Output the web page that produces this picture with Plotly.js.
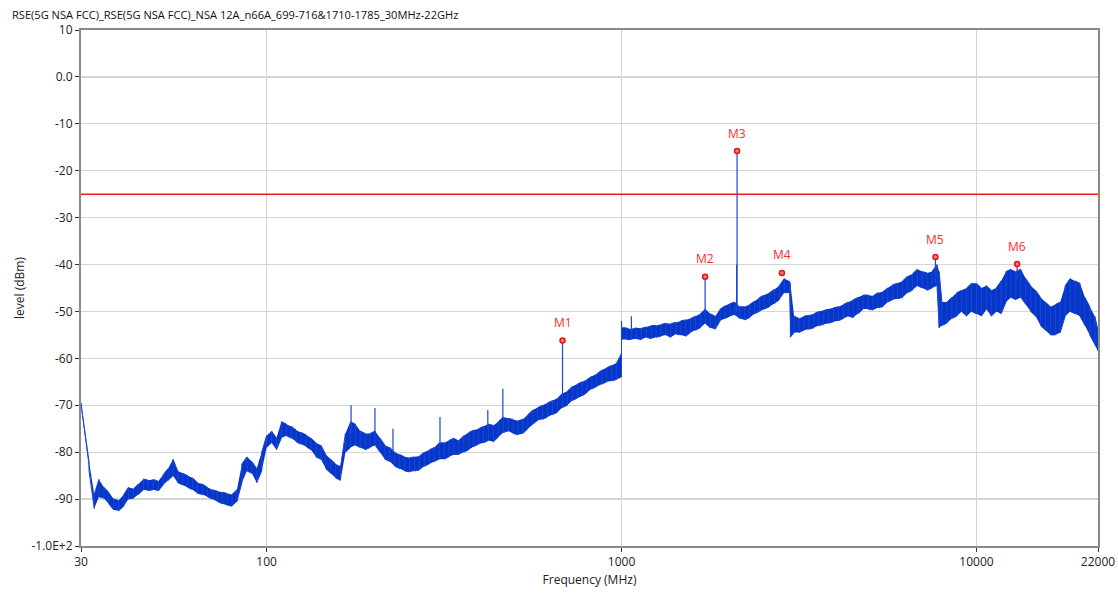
<!DOCTYPE html>
<html>
<head>
<meta charset="utf-8">
<script src="https://cdn.plot.ly/plotly-3.0.1.min.js"></script>
<style>html,body{margin:0;padding:0;background:#fff;}#chart{width:1118px;height:593px;}</style>
</head>
<body>
<div id="chart"></div>
<script>
// Trace envelope: frequency (MHz), lower and upper edge of the noisy trace (dBm)
const freq = [30, 31.6, 32.7, 33.7, 34.8, 35.9, 37.1, 38.3, 39.6, 40.8, 42.2, 43.5, 45.0, 46.4, 47.9, 49.5, 51.1, 52.8, 54.5, 56.2, 58.1, 59.9, 61.9, 63.9, 66.0, 68.1, 70.3, 72.6, 75.0, 77.4, 79.9, 82.5, 85.2, 88.0, 90.9, 93.8, 96.9,
  100, 103.3, 106.6, 110.1, 113.7, 117.4, 121.2, 125.1, 129.2, 133.4, 137.7, 142.2, 146.8, 151.6, 156.5, 161.6, 166.8, 172.2, 177.8, 183.6, 189.6, 195.7, 202.1, 208.7, 215.4, 222.4, 229.7, 237.1, 244.8, 252.8, 261.0, 269.5, 278.3, 287.3, 296.6, 306.3, 316.2, 326.5, 337.1, 348.1, 359.4, 371.1, 383.1, 395.6, 408.4, 421.7, 435.4, 449.6, 464.2, 479.3, 494.8, 510.9, 527.5, 544.7, 562.3, 580.6, 599.5, 619.0, 639.1, 659.8, 681.3, 703.4, 726.3, 749.9, 774.3, 799.4, 825.4, 852.2, 879.9, 908.5, 938.0, 968.5, 999,
  1000, 1032, 1066, 1101, 1137, 1174, 1212, 1251, 1292, 1334, 1377, 1422, 1468, 1516, 1565, 1616, 1668, 1722, 1778, 1836, 1896, 1957, 2021, 2087, 2154, 2224, 2297, 2371, 2448, 2528, 2610, 2695, 2783, 2873, 2966, 2990, 3063, 3162, 3265, 3371, 3481, 3594, 3711, 3831, 3956, 4084, 4217, 4354, 4496, 4642, 4793, 4948, 5109, 5275, 5447, 5623, 5806, 5995, 6190, 6391, 6598, 6813, 7034, 7263, 7499, 7743, 7850, 7994, 8254, 8522, 8799, 9085, 9380, 9685,
  10000, 10325, 10661, 11007, 11365, 11735, 12115, 12509, 12915, 13335, 13768, 14216, 14678, 15155, 15647, 16156, 16681, 17223, 17783, 18361, 18957, 19573, 20210, 20867, 21544, 22000];

const levelLow = [-70.5, -84, -92, -89.5, -89.8, -91, -92.3, -92.5, -91.5, -90, -89.8, -89, -88, -88.2, -88, -88.3, -87, -86, -85, -86.5, -87, -87.5, -88, -88.8, -89, -89.5, -90, -90.5, -91, -91.3, -91.5, -90.5, -86.5, -84, -84.5, -86.5, -84,
  -79, -78, -79.5, -77, -76.5, -77, -77.8, -78.3, -78.8, -79.5, -81, -81.5, -83.5, -84.5, -85.5, -86, -80, -79, -78.5, -79, -79.5, -79, -78.5, -80, -81.5, -82, -83, -83.5, -84, -84.2, -84, -83.8, -83, -82.5, -82, -81.5, -81.5, -81, -80.5, -80.5, -80, -79.5, -78.8, -78.3, -78, -77.5, -77.8, -76.8, -75.8, -75.5, -76, -76.3, -76, -75, -74, -73.2, -73, -72.5, -72, -71.5, -70.5, -70, -69, -68.5, -68, -67.3, -66.5, -66, -65.5, -65, -64.8, -64.5, -64,
  -56, -56, -56, -55.8, -56, -55.5, -55.8, -55.5, -55.3, -55, -55.5, -54.8, -55, -55.3, -54.5, -54, -53.5, -52.5, -53.5, -53.8, -52, -51.5, -51, -50.7, -51.5, -51.8, -51.3, -50.5, -50, -49.5, -49, -48.3, -47.5, -46, -46, -55.5, -54.5, -54.5, -54, -53.8, -53.5, -53, -52.8, -52.5, -52.2, -52, -51.5, -51, -51.3, -50.5, -49.5, -49.5, -49.7, -49.2, -49, -48, -47.5, -47.3, -47, -46, -45.5, -44.5, -45, -45.5, -45, -44.5, -53.5, -53, -52.5, -51.5, -51, -50, -51, -50,
  -50.5, -51, -49.5, -51, -50, -50.5, -48, -47, -47.5, -47, -48.5, -50, -51, -53, -54, -55, -55, -54.5, -51, -50, -50.5, -51, -53, -55, -57, -58.5];

const levelHigh = [-69.5, -82, -89, -85.8, -87.5, -88.5, -90, -90.3, -89, -87.5, -87.8, -86.8, -85.7, -86, -85.8, -86.2, -84.8, -83.5, -81.5, -84, -84.5, -85, -85.5, -86.5, -86.8, -87.5, -88, -88.3, -88.5, -88.8, -89, -88, -82.5, -81, -82, -83.5, -80,
  -76.5, -75.5, -77, -73.5, -74, -74.5, -75.3, -75.8, -76.3, -77, -78, -78.5, -80.5, -81.5, -82.5, -83, -76, -73.5, -74, -75.5, -76, -76, -75.5, -77, -78.5, -79, -80, -80.5, -81, -81.2, -81, -80.8, -80, -79.5, -79, -78, -78, -77.5, -77, -77.5, -76.5, -75.8, -75.3, -75, -74.5, -74, -74.3, -73.5, -72.5, -72.8, -73, -73.3, -73, -72, -71, -70.5, -70, -69.5, -69, -68.5, -67.5, -67, -66, -65.5, -65, -64.5, -63.8, -63.3, -62.5, -62, -61.5, -61, -59,
  -53.5, -53.5, -53.8, -53.5, -53.6, -53.3, -53, -53, -52.8, -52.5, -52.6, -52.3, -52, -51.8, -51.5, -51, -50.5, -49.5, -50.5, -51, -49.5, -48.8, -48.3, -48, -49, -49, -48.5, -47.8, -47, -46.5, -46, -45.3, -44.5, -43, -43.5, -44, -51, -51.5, -51, -50.8, -50.5, -50, -49.8, -49.5, -49.2, -49, -48.5, -48, -47.5, -47, -46.5, -46.5, -46.7, -46, -45.8, -45, -44.3, -44, -43.5, -42.5, -42, -41, -41.5, -41.8, -41.5, -40, -41.5, -48, -48, -47, -46, -45.5, -45, -44,
  -44, -45, -44.5, -45.5, -45, -43.5, -41.5, -41, -41.5, -41, -43, -44.5, -45.5, -47, -48, -49, -48.5, -48, -44.5, -43, -43.5, -44, -47, -49, -51, -54];

// Narrow spikes rising out of the trace
const spikeFreq = [173, 202, 227, 308, 420, 463, 682, 1000, 1066, 1720, 2110, 2116, 7664, 13020];
const spikeBase = [-76, -76, -80, -78, -75, -73, -69, -56, -54, -51, -50, -50, -44, -43];
const spikeTop  = [-70, -70.6, -75, -72.5, -71, -66.5, -56.2, -52, -51, -42.6, -40, -15.8, -38.4, -39.9];

// Markers
const markerLabel = ["M1", "M2", "M3", "M4", "M5", "M6"];
const markerFreq  = [682, 1720, 2116, 2830, 7664, 13020];
const markerLevel = [-56.2, -42.6, -15.8, -41.8, -38.4, -39.9];

// Limit line
const limitLevel = -25;

// Axis ticks
const xTickVals = [30, 100, 1000, 10000, 22000];
const xTickText = ["30", "100", "1000", "10000", "22000"];
const yTickVals = [-100, -90, -80, -70, -60, -50, -40, -30, -20, -10, 0, 10];
const yTickText = ["-1.0E+2", "-90", "-80", "-70", "-60", "-50", "-40", "-30", "-20", "-10", "0.0", "10"];

// Build zig-zag trace between envelopes
const zx = [], zy = [];
for (let i = 0; i < freq.length; i++) {
  if (i % 2 === 0) { zx.push(freq[i], freq[i]); zy.push(levelLow[i], levelHigh[i]); }
  else { zx.push(freq[i], freq[i]); zy.push(levelHigh[i], levelLow[i]); }
}
const sx = [], sy = [];
for (let i = 0; i < spikeFreq.length; i++) {
  sx.push(spikeFreq[i], spikeFreq[i], null);
  sy.push(spikeBase[i], spikeTop[i], null);
}

const blue = '#0636c8';
const traces = [
  {x: freq, y: levelLow, type: 'scatter', mode: 'lines', line: {width: 0, color: blue}, showlegend: false, hoverinfo: 'skip'},
  {x: freq, y: levelHigh, type: 'scatter', mode: 'lines', line: {width: 0, color: blue}, fill: 'tonexty', fillcolor: blue, showlegend: false, hoverinfo: 'skip'},
  {x: zx, y: zy, type: 'scatter', mode: 'lines', line: {width: 1, color: '#1a46d6'}, showlegend: false},
  {x: sx, y: sy, type: 'scatter', mode: 'lines', line: {width: 1.2, color: '#1a46d6'}, showlegend: false, connectgaps: false},
  {x: markerFreq, y: markerLevel, type: 'scatter', mode: 'markers',
   marker: {size: 5, color: '#ff7a7a', line: {color: '#e81010', width: 1.5}}, showlegend: false}
];

const annotations = markerLabel.map((t, i) => ({
  x: Math.log10(markerFreq[i]), y: markerLevel[i], xref: 'x', yref: 'y', text: t, showarrow: false,
  yshift: 18, font: {color: '#ff2a2a', size: 12}
}));

const layout = {
  width: 1118, height: 593,
  margin: {l: 81, r: 20, t: 30, b: 47},
  paper_bgcolor: '#fff', plot_bgcolor: '#fff',
  font: {family: 'Open Sans, Noto Sans, sans-serif', size: 12, color: '#222'},
  title: {text: 'RSE(5G NSA FCC)_RSE(5G NSA FCC)_NSA 12A_n66A_699-716&1710-1785_30MHz-22GHz',
          x: 0.0107, xref: 'container', xanchor: 'left', y: 0.975, yref: 'container', yanchor: 'middle',
          font: {size: 11.1, color: '#111'}},
  xaxis: {type: 'log', range: [Math.log10(30), Math.log10(22000)], tickvals: xTickVals, ticktext: xTickText,
          showgrid: true, gridcolor: '#d4d4d4', gridwidth: 1.2, showline: true, linecolor: '#8a8a8a', linewidth: 2, mirror: true,
          ticks: 'outside', ticklen: 4, tickcolor: '#333', zeroline: false,
          title: {text: 'Frequency (MHz)', font: {size: 12, color: '#222'}, standoff: 6}},
  yaxis: {range: [-100, 10], tickvals: yTickVals, ticktext: yTickText,
          showgrid: true, gridcolor: '#d4d4d4', gridwidth: 1.2, showline: true, linecolor: '#8a8a8a', linewidth: 2, mirror: true,
          ticks: 'outside', ticklen: 4, tickcolor: '#333', zeroline: false,
          title: {text: 'level (dBm)', font: {size: 12, color: '#222'}, standoff: 4}},
  shapes: [{type: 'line', xref: 'paper', x0: 0, x1: 1, yref: 'y', y0: limitLevel, y1: limitLevel,
            line: {color: '#ee1c1c', width: 1.5}}],
  annotations: annotations
};

Plotly.newPlot('chart', traces, layout, {staticPlot: true, displayModeBar: false});
</script>
</body>
</html>
